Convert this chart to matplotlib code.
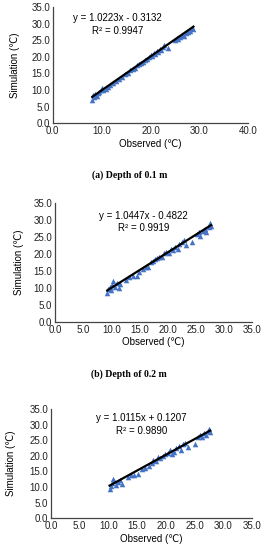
import numpy as np
import matplotlib
matplotlib.use('Agg')
import matplotlib.pyplot as plt

plt.rcParams['font.family'] = ['Liberation Sans', 'DejaVu Sans']

# (a) 0.1 m
obs_a = [8.1, 8.3, 8.5, 8.7, 9.0, 9.2, 9.5, 9.8, 10.0, 10.3, 10.8, 11.2, 11.8, 12.3, 12.9, 13.5, 14.2, 14.8, 15.3, 15.9,
         16.5, 16.9, 17.2, 17.6, 18.0, 18.4, 18.9, 19.3, 19.7, 20.1, 20.4, 20.7, 21.0, 21.3, 21.6, 21.9, 22.2, 22.5, 22.8, 23.6,
         25.0, 25.4, 25.7, 26.1, 26.5, 26.8, 27.2, 27.6, 28.0, 28.4, 28.8]
sim_a = [7.0, 8.5, 7.8, 8.9, 8.2, 9.0, 9.3, 10.0, 10.5, 9.9, 10.4, 11.0, 11.6, 12.0, 12.7, 13.2, 14.0, 14.7, 15.2, 16.0,
         16.4, 16.5, 17.5, 17.8, 18.2, 18.6, 19.0, 19.5, 20.0, 20.6, 20.3, 21.2, 21.0, 21.8, 21.5, 22.3, 22.0, 23.0, 23.7, 22.8,
         25.0, 25.8, 25.3, 26.0, 26.5, 26.2, 27.1, 27.5, 27.8, 28.6, 28.5]

# (b) 0.2 m
obs_b = [9.3, 9.5, 9.7, 9.9, 10.1, 10.3, 10.6, 11.0, 11.3, 11.6, 12.6, 13.2, 13.8, 14.5, 15.0, 15.6, 16.2, 16.6, 17.1, 17.4,
         17.8, 18.1, 18.5, 19.0, 19.4, 19.8, 20.2, 20.6, 21.0, 21.4, 21.8, 22.1, 22.5, 22.9, 23.2, 24.4, 25.2, 25.5, 25.8, 26.2,
         26.6, 26.9, 27.3, 27.6, 27.7]
sim_b = [8.4, 9.6, 10.2, 9.4, 10.8, 11.9, 10.3, 11.4, 9.8, 11.2, 12.4, 13.1, 13.4, 13.6, 14.8, 15.4, 16.1, 16.2, 17.6, 18.0,
         18.4, 18.9, 19.0, 19.2, 20.2, 20.6, 20.4, 21.4, 21.2, 22.1, 21.5, 22.9, 23.4, 24.0, 22.6, 23.5, 25.8, 26.3, 25.4, 26.6,
         27.2, 26.5, 27.9, 29.0, 28.3]

# (c)
obs_c = [10.2, 10.4, 10.6, 10.8, 11.0, 11.3, 11.7, 12.0, 12.4, 13.4, 14.0, 14.5, 15.2, 15.8, 16.4, 17.0, 17.5, 17.8, 18.2, 18.6,
         19.0, 19.5, 19.9, 20.3, 20.7, 21.0, 21.4, 21.8, 22.2, 22.6, 23.0, 23.4, 23.8, 25.1, 25.5, 25.9, 26.3, 26.7, 27.0, 27.3,
         27.5, 27.7]
sim_c = [9.5, 10.2, 11.2, 12.7, 12.0, 10.5, 11.6, 12.3, 10.9, 13.1, 14.0, 13.9, 14.3, 15.8, 16.2, 16.9, 17.6, 18.8, 18.5, 19.5,
         19.2, 19.8, 20.6, 21.0, 21.8, 20.6, 21.4, 22.4, 23.1, 22.0, 23.8, 24.2, 23.0, 23.8, 26.0, 26.6, 26.2, 27.2, 26.7, 28.0,
         28.6, 27.6]

slopes = [1.0223, 1.0447, 1.0115]
intercepts = [-0.3132, -0.4822, 0.1207]
r2 = ['0.9947', '0.9919', '0.9890']
xmax = [40, 35, 35]
xstep = [10, 5, 5]
captions = ['(a) Depth of 0.1 m', '(b) Depth of 0.2 m', None]

fig = plt.figure(figsize=(2.64, 5.5), dpi=100)

# axes boxes (figure fraction)
boxes = [[0.200, 0.776, 0.740, 0.211],
         [0.208, 0.415, 0.747, 0.216],
         [0.193, 0.058, 0.762, 0.198]]
# equation text position (axes fraction)
eq_pos = [(0.33, 0.85), (0.45, 0.84), (0.45, 0.86)]
ylab_pad = [8, 7, 10]

data = [(obs_a, sim_a), (obs_b, sim_b), (obs_c, sim_c)]
blue = '#4472C4'

for i in range(3):
    ax = fig.add_axes(boxes[i])
    x, y = data[i]
    ax.scatter(x, y, marker='^', s=16, color=blue, linewidths=0, zorder=2)
    xl = np.array([min(x), max(x)])
    ax.plot(xl, slopes[i] * xl + intercepts[i], color='black', lw=1.6, zorder=3)

    ax.set_xlim(0, xmax[i])
    ax.set_ylim(0, 35)
    ax.set_xticks(np.arange(0, xmax[i] + 0.1, xstep[i]))
    ax.set_yticks(np.arange(0, 35.1, 5))
    ax.xaxis.set_major_formatter(matplotlib.ticker.FormatStrFormatter('%.1f'))
    ax.yaxis.set_major_formatter(matplotlib.ticker.FormatStrFormatter('%.1f'))
    ax.tick_params(length=0, labelsize=7, pad=2, colors='#222222')
    for s in ['top', 'right']:
        ax.spines[s].set_visible(False)
    for s in ['left', 'bottom']:
        ax.spines[s].set_color('#444444')
        ax.spines[s].set_linewidth(0.9)
    ax.set_xlabel('Observed (℃)', fontsize=7, labelpad=2)
    ax.set_ylabel('Simulation (℃)', fontsize=7, labelpad=ylab_pad[i])

    sign = '+' if intercepts[i] >= 0 else '-'
    eq = 'y = %.4fx %s %.4f' % (slopes[i], sign, abs(intercepts[i]))
    ax.text(eq_pos[i][0], eq_pos[i][1], eq + '\nR² = ' + r2[i], transform=ax.transAxes,
            fontsize=7, ha='center', va='center', linespacing=1.3)

    if captions[i]:
        fig.text(0.49, boxes[i][1] - 0.095, captions[i], ha='center', va='center',
                 fontsize=7, fontweight='bold', family='Liberation Serif')

fig.savefig('out.png', dpi=100)
